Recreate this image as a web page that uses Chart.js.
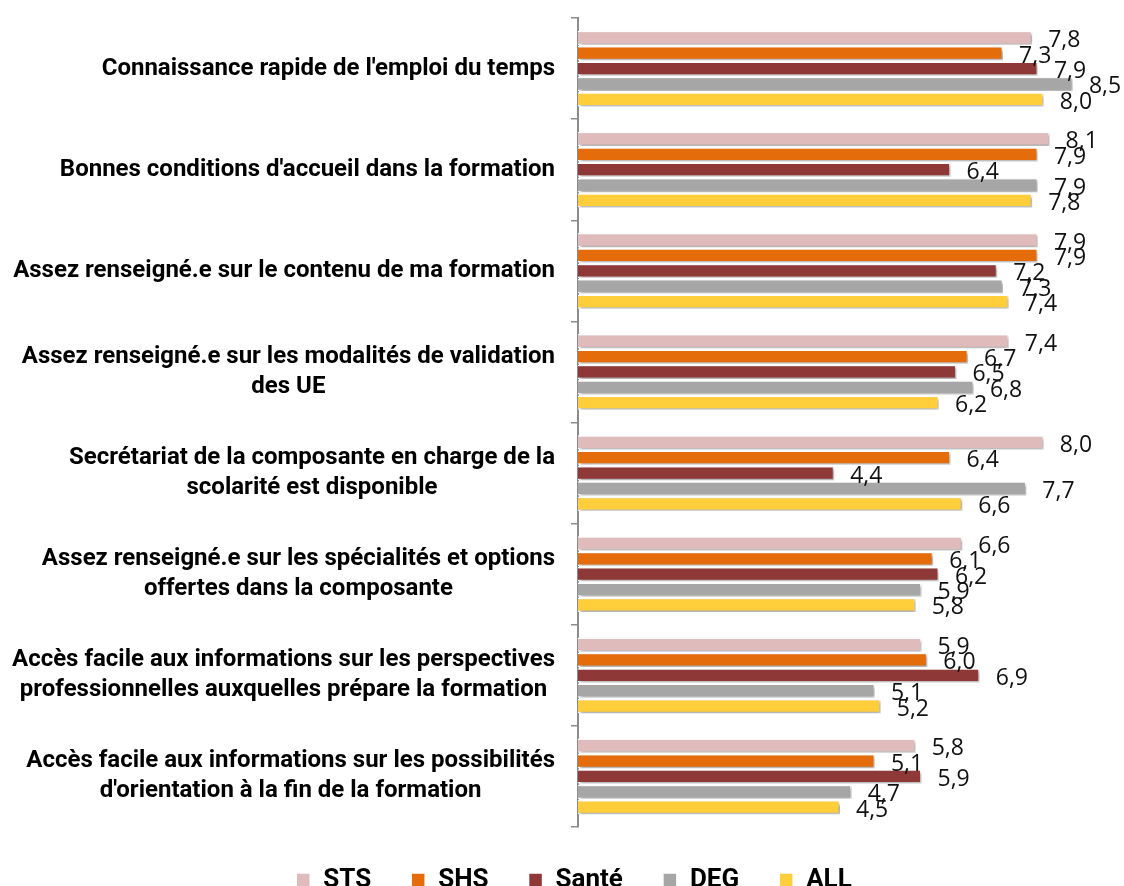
<!DOCTYPE html>
<html>
<head>
<meta charset="utf-8">
<script src="https://cdn.jsdelivr.net/npm/chart.js@4.4.0/dist/chart.umd.min.js"></script>
<style>
  html, body { margin: 0; padding: 0; background: #fff; }
  #wrap { width: 1124px; height: 886px; }
</style>
</head>
<body>
<div id="wrap"><canvas id="chart"></canvas></div>
<script>
// libellés des questions (une ligne par élément)
const categories = [
    ["Connaissance rapide de l'emploi du temps"],
    ["Bonnes conditions d'accueil dans la formation"],
    ["Assez renseigné.e sur le contenu de ma formation"],
    ["Assez renseigné.e sur les modalités de validation", "des UE"],
    ["Secrétariat de la composante en charge de la", "scolarité est disponible"],
    ["Assez renseigné.e sur les spécialités et options", "offertes dans la composante"],
    ["Accès facile aux informations sur les perspectives", "professionnelles auxquelles prépare la formation"],
    ["Accès facile aux informations sur les possibilités", "d'orientation à la fin de la formation"]
];
const seriesNames = ['STS', 'SHS', 'Santé', 'DEG', 'ALL'];
const stsValues   = [7.8, 8.1, 7.9, 7.4, 8.0, 6.6, 5.9, 5.8];
const shsValues   = [7.3, 7.9, 7.9, 6.7, 6.4, 6.1, 6.0, 5.1];
const santeValues = [7.9, 6.4, 7.2, 6.5, 4.4, 6.2, 6.9, 5.9];
const degValues   = [8.5, 7.9, 7.3, 6.8, 7.7, 5.9, 5.1, 4.7];
const allValues   = [8.0, 7.8, 7.4, 6.2, 6.6, 5.8, 5.2, 4.5];
const seriesColors = ['#E0BBBB', '#E46C0A', '#8E3937', '#A6A6A6', '#FFCE3A'];

const allSeries = [stsValues, shsValues, santeValues, degValues, allValues];

// ombre portée sous les barres
const shadowPlugin = {
    id: 'barShadow',
    beforeDatasetsDraw(chart) {
        const ctx = chart.ctx;
        ctx.save();
        ctx.shadowColor = 'rgba(0,0,0,0.35)';
        ctx.shadowBlur = 3;
        ctx.shadowOffsetX = 2;
        ctx.shadowOffsetY = 2;
    },
    afterDatasetsDraw(chart) {
        chart.ctx.restore();
    }
};

// valeurs à droite des barres, virgule décimale
const valueLabels = {
    id: 'valueLabels',
    afterDatasetsDraw(chart) {
        const ctx = chart.ctx;
        ctx.save();
        ctx.font = '23px "Open Sans"';
        ctx.fillStyle = '#111';
        ctx.textAlign = 'left';
        ctx.textBaseline = 'middle';
        chart.data.datasets.forEach((ds, i) => {
            chart.getDatasetMeta(i).data.forEach((bar, j) => {
                const txt = ds.data[j].toFixed(1).replace('.', ',');
                ctx.fillText(txt, bar.x + 16, bar.y + 3);
            });
        });
        ctx.restore();
    }
};

// libellés des catégories : bloc aligné à droite, lignes centrées
const categoryLabels = {
    id: 'categoryLabels',
    afterDraw(chart) {
        const ctx = chart.ctx;
        const yScale = chart.scales.y;
        const right = chart.chartArea.left - 23;
        const lineH = 30;
        ctx.save();
        ctx.font = 'bold 24px Roboto';
        ctx.fillStyle = '#000';
        ctx.textAlign = 'center';
        ctx.textBaseline = 'middle';
        categories.forEach((lines, i) => {
            const w = Math.max(...lines.map(l => ctx.measureText(l).width));
            const cx = right - w / 2;
            const cy = yScale.getPixelForValue(i);
            const y0 = cy - (lines.length - 1) * lineH / 2;
            lines.forEach((l, k) => ctx.fillText(l, cx, y0 + k * lineH));
        });
        ctx.restore();
    }
};

// réduit la hauteur de la légende sans toucher à l'espacement horizontal
const legendFit = {
    id: 'legendFit',
    beforeInit(chart) {
        const orig = chart.legend.fit;
        chart.legend.fit = function() {
            orig.call(this);
            this.height = 59;
        };
    }
};

new Chart(document.getElementById('chart'), {
    type: 'bar',
    data: {
        labels: categories,
        datasets: seriesNames.map((name, i) => ({
            label: name,
            data: allSeries[i],
            backgroundColor: seriesColors[i],
            borderColor: '#fff',
            borderWidth: 1.5,
            categoryPercentage: 0.76,
            barPercentage: 0.93
        }))
    },
    options: {
        indexAxis: 'y',
        responsive: true,
        maintainAspectRatio: false,
        animation: false,
        layout: { padding: { left: 46, right: 22, top: 18, bottom: 0 } },
        scales: {
            x: { display: false, min: 0, max: 9 },
            y: {
                ticks: { display: false },
                grid: { drawOnChartArea: false, tickLength: 7, color: '#8c8c8c', lineWidth: 1.5 },
                border: { color: '#8c8c8c', width: 2 },
                afterFit(scale) { scale.width = 532; }
            }
        },
        plugins: {
            legend: {
                position: 'bottom',
                labels: {
                    boxWidth: 14,
                    boxHeight: 14,
                    padding: 40,
                    color: '#000',
                    font: { family: 'Roboto', size: 26, weight: 'bold' }
                }
            },
            tooltip: { enabled: false }
        }
    },
    plugins: [legendFit, shadowPlugin, valueLabels, categoryLabels]
});
</script>
</body>
</html>
